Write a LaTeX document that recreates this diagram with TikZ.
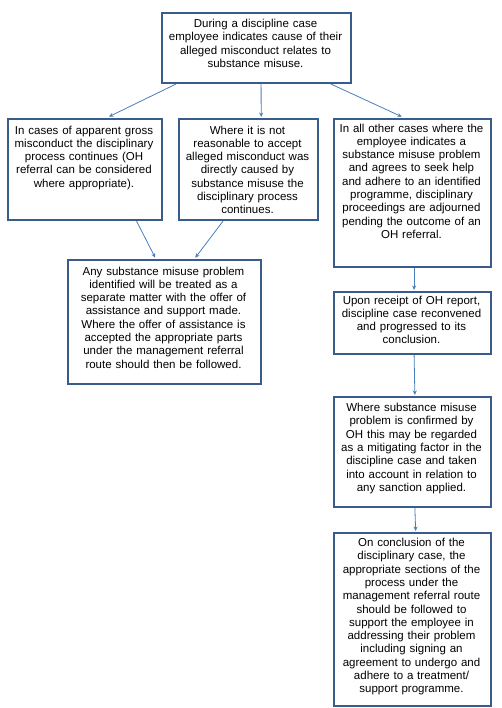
\documentclass[tikz,border=0pt]{standalone}
\usepackage{fontspec}
\setmainfont{Liberation Sans}
\usetikzlibrary{arrows.meta,calc}
\definecolor{boxline}{HTML}{385D8A}
\definecolor{arrline}{HTML}{4A7EBB}
\tikzset{
  box/.style={draw=boxline, line width=2pt, fill=white, inner sep=0pt, anchor=north west},
  txt/.style={anchor=north, inner sep=0pt, align=center, text width=#1,
    font=\fontsize{11.5}{13.3}\selectfont},
  arr/.style={draw=arrline, line width=0.8pt, -{Stealth[length=4.5pt,width=4pt]}},
}
\begin{document}
\begin{tikzpicture}[x=1pt,y=-1pt]
\useasboundingbox (0,0) rectangle (501,708);
% boxes
\node[box, minimum width=189pt, minimum height=70pt] (top) at (161,12) {};
\node[box, minimum width=154pt, minimum height=101pt] (L) at (7,118) {};
\node[box, minimum width=139pt, minimum height=101pt] (M) at (178,118) {};
\node[box, minimum width=157pt, minimum height=148pt] (R) at (333,118) {};
\node[box, minimum width=193pt, minimum height=124pt] (C) at (67,259) {};
\node[box, minimum width=157pt, minimum height=62pt] (R2) at (333,291) {};
\node[box, minimum width=157pt, minimum height=110pt] (R3) at (333,396) {};
\node[box, minimum width=157pt, minimum height=173pt] (R4) at (333,532) {};
% texts
\node[txt=187pt] (ttop) at (255.5,19) {During a discipline case\\employee indicates cause of their\\alleged misconduct relates to\\substance misuse.};
\node[txt=152pt] (tL) at (84,125.5) {In cases of apparent gross\\misconduct the disciplinary\\process continues (OH\\referral can be considered\\where appropriate).};
\node[txt=137pt] (tM) at (247.5,125.5) {Where it is not\\reasonable to accept\\alleged misconduct was\\directly caused by\\substance misuse the\\disciplinary process\\continues.};
\node[txt=155pt] (tR) at (411.5,123.5) {In all other cases where the\\employee indicates a\\substance misuse problem\\and agrees to seek help\\and adhere to an identified\\programme, disciplinary\\proceedings are adjourned\\pending the outcome of an\\OH referral.};
\node[txt=191pt] (tC) at (163.5,266.5) {Any substance misuse problem\\identified will be treated as a\\separate matter with the offer of\\assistance and support made.\\Where the offer of assistance is\\accepted the appropriate parts\\under the management referral\\route should then be followed.};
\node[txt=155pt] (tR2) at (411.5,295.5) {Upon receipt of OH report,\\discipline case reconvened\\and progressed to its\\conclusion.};
\node[txt=155pt] (tR3) at (411.5,403) {Where substance misuse\\problem is confirmed by\\OH this may be regarded\\as a mitigating factor in the\\discipline case and taken\\into account in relation to\\any sanction applied.};
\node[txt=155pt] (tR4) at (411.5,538) {On conclusion of the\\disciplinary case, the\\appropriate sections of the\\process under the\\management referral route\\should be followed to\\support the employee in\\addressing their problem\\including signing an\\agreement to undergo and\\adhere to a treatment/\\support programme.};
% connectors
\draw[arr, shorten >=3pt] ($(top.south west)!0.079!(top.south east)$) -- ($(L.north west)!0.636!(L.north east)$);
\draw[arr, shorten >=1pt] ($(top.south west)!0.524!(top.south east)$) -- ($(M.north west)!0.59!(M.north east)$);
\draw[arr, shorten >=3pt] ($(top.south west)!0.889!(top.south east)$) -- ($(R.north west)!0.45!(R.north east)$);
\draw[arr, shorten >=1.5pt] ($(L.south west)!0.83!(L.south east)$) -- ($(C.north west)!0.456!(C.north east)$);
\draw[arr, shorten >=1.5pt] ($(M.south west)!0.32!(M.south east)$) -- ($(C.north west)!0.653!(C.north east)$);
\draw[arr, shorten >=1pt] ($(R.south west)!0.51!(R.south east)$) -- ($(R2.north west)!0.51!(R2.north east)$);
\draw[arr, shorten >=1pt] ($(R2.south west)!0.51!(R2.south east)$) -- ($(R3.north west)!0.515!(R3.north east)$);
\draw[arr, shorten >=1pt] ($(R3.south west)!0.515!(R3.south east)$) -- ($(R4.north west)!0.52!(R4.north east)$);
\end{tikzpicture}
\end{document}
